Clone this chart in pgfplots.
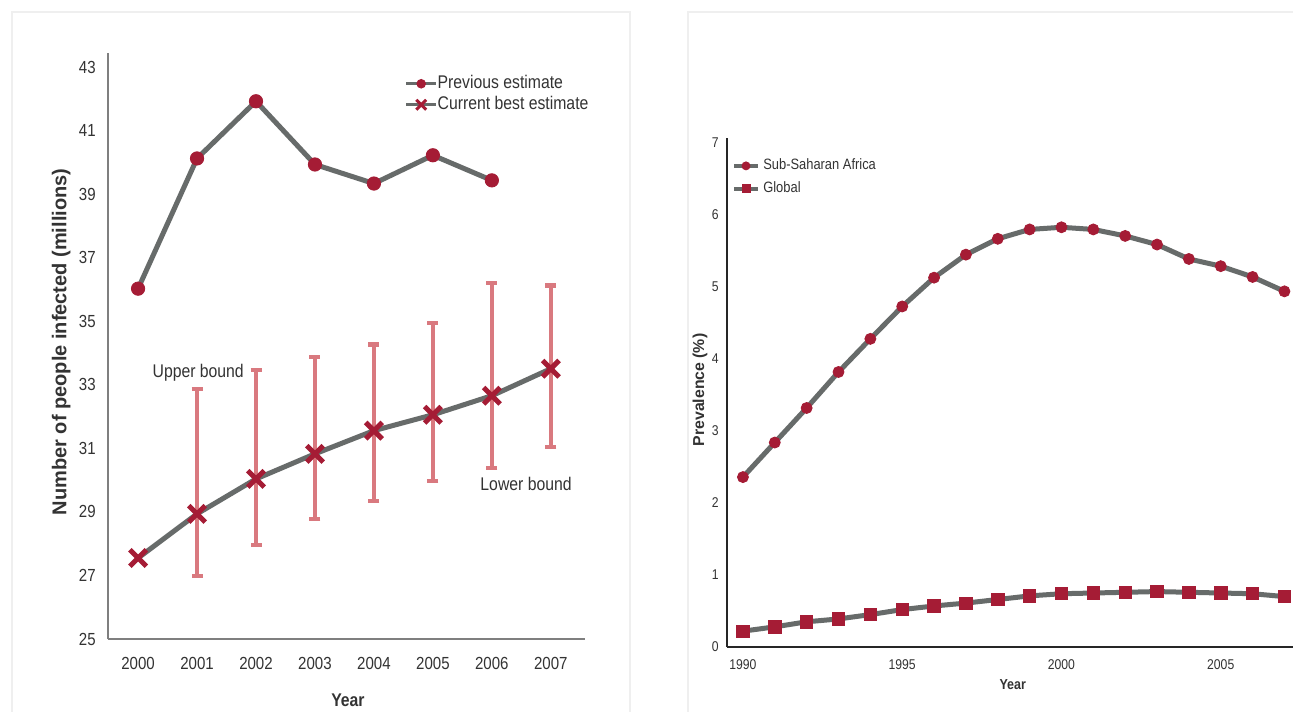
\documentclass[border=0pt]{standalone}
\usepackage{fontspec}
\setmainfont{Liberation Sans}[FakeStretch=0.86]
\newfontfamily\plainsans{Liberation Sans}
\usepackage{pgfplots}
\pgfplotsset{compat=1.18}
\definecolor{lgray}{HTML}{676B6A}
\definecolor{mred}{HTML}{A51C35}
\definecolor{errc}{HTML}{D9797F}
\definecolor{txt}{HTML}{333333}
\definecolor{axl}{HTML}{7F7F7F}
\definecolor{framec}{HTML}{EFEFEF}
\begin{document}
\begin{tikzpicture}
\useasboundingbox (0,0) rectangle (775.8pt,426.6pt);
\fill[white] (0,0) rectangle (775.8pt,426.6pt);
\draw[framec, line width=1.2pt] (7.2pt,-10pt) -- (7.2pt,419.4pt) -- (378pt,419.4pt) -- (378pt,-10pt);
\draw[framec, line width=1.2pt] (412.8pt,-10pt) -- (412.8pt,419.4pt) -- (790pt,419.4pt);

\begin{axis}[
  at={(64.8pt,43.2pt)}, anchor=south west, scale only axis,
  width=286.2pt, height=351.6pt,
  xmin=1999.49, xmax=2007.58, ymin=25, ymax=43.45,
  axis x line*=bottom, axis y line*=left,
  axis line style={-, draw=axl, line width=1.3pt},
  xtick={2000,2001,...,2007}, ytick={25,27,...,43},
  major tick length=0pt,
  /pgf/number format/1000 sep={},
  /pgf/number format/assume math mode=true,
  tick label style={font=\fontsize{10.5}{12}\selectfont, text=txt, inner sep=0pt},
  xticklabel style={anchor=north, yshift=-10.6pt},
  yticklabel style={anchor=east, xshift=-7.2pt},
  xlabel={Year}, ylabel={Number of people infected (millions)},
  xlabel style={font=\fontsize{11}{13}\selectfont\bfseries, text=txt, at={(axis description cs:0.503,0)}, anchor=center, yshift=-36.6pt},
  ylabel style={font=\plainsans\fontsize{12}{14}\selectfont\bfseries, text=txt, at={(axis description cs:-0.098,0.507)}, anchor=center},
  legend style={draw=none, fill=none, at={(axis description cs:0.622,0.962)}, anchor=north west,
    font=\fontsize{11}{13}\selectfont, text=txt, inner sep=0pt, outer sep=0pt, row sep=2.4pt,
    nodes={inner sep=0pt, text depth=2.2pt, text height=8pt}, /tikz/column sep=0pt},
  legend cell align=left,
  legend image code/.code={\draw[mark repeat=2, mark phase=2, #1] plot coordinates {(0pt,0pt) (9pt,0pt) (18pt,0pt)};},
]
\addplot[forget plot, color=errc, only marks, mark=none,
  error bars/.cd, y dir=both, y explicit, error mark=|,
  error bar style={draw=errc, line width=2.5pt},
  error mark options={draw=errc, line width=2.5pt, mark size=3.3pt}]
coordinates {
  (2001,28.94) += (0,3.94) -= (0,1.95)
  (2002,30.04) += (0,3.44) -= (0,2.08)
  (2003,30.83) += (0,3.06) -= (0,2.05)
  (2004,31.56) += (0,2.71) -= (0,2.21)
  (2005,32.06) += (0,2.90) -= (0,2.08)
  (2006,32.66) += (0,3.56) -= (0,2.27)
  (2007,33.51) += (0,2.62) -= (0,2.46)
};
\addplot[lgray, line width=3pt, mark=*, mark size=4pt, mark options={fill=mred, draw=mred, line width=0.5pt},
  legend image post style={line width=1.8pt, mark size=2.6pt}]
coordinates {(2000,36.03) (2001,40.13) (2002,41.93) (2003,39.94) (2004,39.34) (2005,40.23) (2006,39.44)};
\addlegendentry{Previous estimate}
\addplot[lgray, line width=3pt, mark=x, mark size=7pt, mark options={draw=mred, line width=3pt},
  legend image post style={line width=1.8pt, mark size=4.2pt, mark options={draw=mred, line width=1.8pt}}]
coordinates {(2000,27.55) (2001,28.94) (2002,30.04) (2003,30.83) (2004,31.56) (2005,32.06) (2006,32.66) (2007,33.51)};
\addlegendentry{Current best estimate}
\node[font=\fontsize{11}{13}\selectfont, text=txt] at (axis cs:2001.02,33.39) {Upper bound};
\node[font=\fontsize{11}{13}\selectfont, text=txt] at (axis cs:2006.58,29.89) {Lower bound};
\end{axis}

\begin{axis}[
  at={(436.2pt,38.4pt)}, anchor=south west, scale only axis,
  width=340.2pt, height=305.4pt,
  xmin=1989.5, xmax=2007.3, ymin=0, ymax=7.07,
  axis x line*=bottom, axis y line*=left,
  axis line style={-, draw=black!85, line width=1.2pt},
  xtick={1990,1995,2000,2005}, ytick={0,1,...,7},
  major tick length=0pt,
  /pgf/number format/1000 sep={},
  /pgf/number format/assume math mode=true,
  tick label style={font=\fontsize{8.5}{10}\selectfont, text=txt, inner sep=0pt},
  xticklabel style={anchor=north, yshift=-7.2pt},
  yticklabel style={anchor=east, xshift=-4.8pt},
  xlabel={Year}, ylabel={Prevalence (\%)},
  xlabel style={font=\fontsize{8.7}{10}\selectfont\bfseries, text=txt, at={(axis description cs:0.504,0)}, anchor=center, yshift=-22.8pt},
  ylabel style={font=\plainsans\fontsize{9.5}{11}\selectfont\bfseries, text=txt, at={(axis description cs:-0.0476,0.505)}, anchor=center},
  legend style={draw=none, fill=none, at={(axis description cs:0.0088,0.959)}, anchor=north west,
    font=\fontsize{9}{11}\selectfont, text=txt, inner sep=0pt, outer sep=0pt, row sep=5.4pt,
    nodes={inner sep=0pt, text depth=1.8pt, text height=6.6pt}, /tikz/column sep=2pt},
  legend cell align=left,
  legend image code/.code={\draw[mark repeat=2, mark phase=2, #1] plot coordinates {(0pt,0pt) (7.2pt,0pt) (14.4pt,0pt)};},
  legend image post style={line width=2.4pt, mark size=2.4pt},
]
\addplot[lgray, line width=3pt, mark=*, mark size=3.3pt, mark options={fill=mred, draw=mred, line width=0.5pt}]
coordinates {(1990,2.36) (1991,2.84) (1992,3.32) (1993,3.82) (1994,4.28) (1995,4.73) (1996,5.13) (1997,5.45) (1998,5.67) (1999,5.80) (2000,5.83) (2001,5.80) (2002,5.71) (2003,5.59) (2004,5.39) (2005,5.29) (2006,5.14) (2007,4.94)};
\addlegendentry{Sub-Saharan Africa}
\addplot[lgray, line width=3pt, mark=square*, mark size=3.7pt, mark options={fill=mred, draw=mred, line width=0.5pt}]
coordinates {(1990,0.22) (1991,0.28) (1992,0.35) (1993,0.39) (1994,0.45) (1995,0.52) (1996,0.57) (1997,0.61) (1998,0.66) (1999,0.71) (2000,0.74) (2001,0.75) (2002,0.76) (2003,0.77) (2004,0.76) (2005,0.75) (2006,0.74) (2007,0.70)};
\addlegendentry{Global}
\end{axis}
\end{tikzpicture}
\end{document}
